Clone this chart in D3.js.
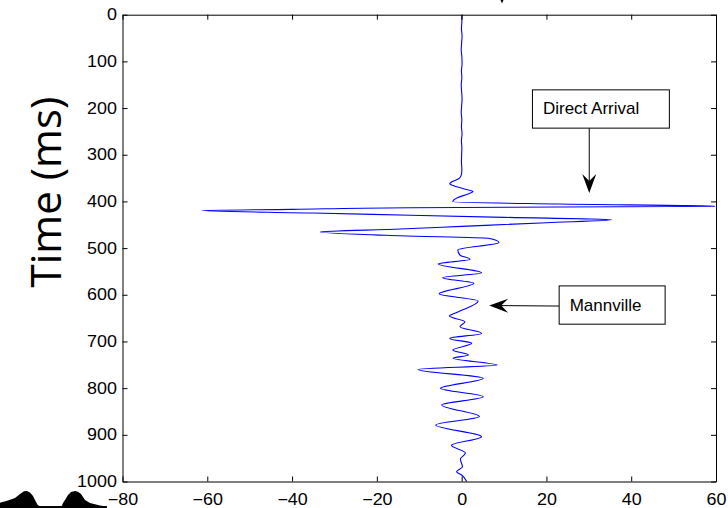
<!DOCTYPE html>
<html>
<head>
<meta charset="utf-8">
<script src="https://cdn.jsdelivr.net/npm/d3@7"></script>
<style>
  html, body { margin: 0; padding: 0; background: #fff; }
  svg { display: block; }
</style>
</head>
<body>
<svg id="chart" width="728" height="508"></svg>
<script>
// Vertical seismic trace: two-way time (ms) against amplitude
const timeMs = [
  0, 15, 30, 45, 60, 75, 90, 105, 120, 135, 150, 165, 180, 195, 210, 225, 240, 255, 270, 285,
  300, 315, 330, 340, 350, 358, 362, 366, 373, 379, 384, 392, 400.6,
  405.6, 410.5, 412, 413.5, 417, 419.5, 424.9, 429.6, 434.1, 439.3,
  445.6, 453.5, 459.2, 465.3, 473.5, 479, 488,
  504, 515, 524, 534, 553, 563.5, 575.5, 598, 613.5, 638, 645.6, 658, 668.5, 682.7,
  693.4, 704, 718.5, 729, 736, 750.6, 760, 779, 800.5, 818.5, 836, 861, 879, 904,
  922.5, 939, 952, 968.5, 979, 986, 1000
];
const amplitude = [
  0, 0.05, -0.05, 0.1, 0, -0.1, 0.05, 0.1, -0.05, 0.05, -0.1, 0, 0.1, 0, -0.1, 0.05, -0.05, 0.1, -0.05, 0.05,
  0, -0.05, 0.05, 0, -0.5, -2.3, -2.8, -2.0, 0.5, 2.7, 1.5, -1.0, -2.1,
  23, 59.7, 23, -12, -40, -61.3, -35, -12, 10, 35.4,
  20, 0, -14.5, -33.3, -14.5, 6.3, 8.8,
  -0.9, -0.4, 2.0, -5.5, 4.7, -4.5, 2.9, -5.3, 3.9, -1.2, -2.9, 0.8, -0.4, 4.7,
  -2.8, 2.4, -2.1, 1.6, -2.0, 8.4, -10.3, 5.1, -5.0, 5.1, -4.7, 4.2, -6.1, 4.7,
  -2.4, 0.9, -0.3, 0.2, -1.2, 0, 1.2
];

const xTicks = [-80, -60, -40, -20, 0, 20, 40, 60];
const yTicks = [0, 100, 200, 300, 400, 500, 600, 700, 800, 900, 1000];

// Callout labels, anchored in data units
const calloutText = ["Direct Arrival", "Mannville"];
const calloutBox = [            // [x0, x1, t0, t1]
  [16.7, 49.0, 161, 243],
  [23.0, 48.0, 581, 663]
];
const calloutTip = [            // [x, t] where the arrow points
  [30.1, 382],
  [6.5, 623]
];

const plot = { left: 122.5, right: 716, top: 14.7, bottom: 481.5 };

const svg = d3.select("#chart");

const x = d3.scaleLinear().domain([-80, 60]).range([plot.left, plot.right]);
const y = d3.scaleLinear().domain([0, 1000]).range([plot.top, plot.bottom]);

const FONT = "'Liberation Sans', Arial, Helvetica, sans-serif";
const TICK_SX = 1.12;

// Trace
const trace = timeMs.map((t, i) => ({ t, v: amplitude[i] }));
svg.append("path")
  .datum(trace)
  .attr("fill", "none")
  .attr("stroke", "#0000ff")
  .attr("stroke-width", 1.1)
  .attr("stroke-linejoin", "round")
  .attr("d", d3.line().x(d => x(d.v)).y(d => y(d.t)).curve(d3.curveMonotoneY));

// Axes (box with inward ticks on all sides)
function styleAxis(g) {
  g.select(".domain").attr("stroke", "#000").attr("stroke-width", 1);
  g.selectAll(".tick line").attr("stroke", "#000").attr("stroke-width", 1);
  g.selectAll("text").attr("fill", "#000");
}

svg.append("g")
  .attr("transform", `translate(0,${plot.bottom})`)
  .call(d3.axisBottom(x).tickValues(xTicks).tickSizeInner(-5).tickSizeOuter(0).tickPadding(12).tickFormat(d3.format("d")))
  .call(styleAxis)
  .call(g => g.selectAll("text")
    .attr("font-family", FONT).attr("font-size", 16)
    .attr("transform", `scale(${TICK_SX},1)`));

svg.append("g")
  .attr("transform", `translate(${plot.left},0)`)
  .call(d3.axisLeft(y).tickValues(yTicks).tickSizeInner(-5).tickSizeOuter(0).tickPadding(5).tickFormat(d3.format("d")))
  .call(styleAxis)
  .call(g => g.selectAll("text")
    .attr("font-family", FONT).attr("font-size", 16)
    .attr("transform", `scale(${TICK_SX},1)`));

svg.append("g")
  .attr("transform", `translate(0,${plot.top})`)
  .call(d3.axisTop(x).tickValues(xTicks).tickSizeInner(-5).tickSizeOuter(0).tickFormat(""))
  .call(styleAxis);

svg.append("g")
  .attr("transform", `translate(${plot.right},0)`)
  .call(d3.axisRight(y).tickValues(yTicks).tickSizeInner(-5).tickSizeOuter(0).tickFormat(""))
  .call(styleAxis);

// Y axis title
svg.append("text")
  .attr("transform", `translate(61,192) rotate(-90)`)
  .attr("text-anchor", "middle")
  .attr("font-family", "'Open Sans', sans-serif")
  .attr("font-size", 42)
  .attr("fill", "#000")
  .text("Time (ms)");

// Arrow with swept-back head
function arrow(x1, y1, x2, y2, len = 19, half = 7, notch = 12) {
  const dx = x2 - x1, dy = y2 - y1, L = Math.hypot(dx, dy);
  const ux = dx / L, uy = dy / L, nx = -uy, ny = ux;
  svg.append("line")
    .attr("x1", x1).attr("y1", y1)
    .attr("x2", x2 - ux * (notch - 1)).attr("y2", y2 - uy * (notch - 1))
    .attr("stroke", "#000").attr("stroke-width", 1);
  const bx = x2 - ux * len, by = y2 - uy * len;
  const pts = [
    [x2, y2],
    [bx + nx * half, by + ny * half],
    [x2 - ux * notch, y2 - uy * notch],
    [bx - nx * half, by - ny * half]
  ];
  svg.append("path")
    .attr("d", "M" + pts.map(p => p.join(",")).join("L") + "Z")
    .attr("fill", "#000");
}

// Callouts
calloutText.forEach((label, i) => {
  const [bx0, bx1, bt0, bt1] = calloutBox[i];
  const [tx, tt] = calloutTip[i];
  const X0 = x(bx0), X1 = x(bx1), Y0 = y(bt0), Y1 = y(bt1);
  if (i === 0) {
    arrow(x(tx), Y1, x(tx), y(tt));            // straight down from the box
  } else {
    arrow(X0, (Y0 + Y1) / 2 + 1, x(tx), y(tt)); // left from the box
  }
  svg.append("rect")
    .attr("x", X0).attr("y", Y0)
    .attr("width", X1 - X0).attr("height", Y1 - Y0)
    .attr("fill", "#fff").attr("stroke", "#000").attr("stroke-width", 1);
  svg.append("text")
    .attr("x", X0 + 10.5).attr("y", (Y0 + Y1) / 2 + 5.5)
    .attr("font-family", FONT).attr("font-size", 17)
    .attr("fill", "#000")
    .text(label);
});

// Edge fragments of neighbouring artwork
svg.append("path")
  .attr("d", "M500.5,0L503.5,0L502,3.5Z")
  .attr("fill", "#000");

const blobPts = [
  [0, 508], [0, 502.7], [8, 500.5], [15, 498], [20, 494], [24, 491.2], [27, 491], [30, 492.5],
  [33, 496], [35.5, 501], [37.7, 505], [40, 506.3], [61.7, 506.3], [63, 503], [65, 500], [68, 495],
  [71, 492], [75, 491], [78, 491.8], [81, 494], [85, 500], [90, 503], [100, 505.5], [106.7, 506.5], [107, 508]
];
svg.append("path")
  .attr("d", d3.line().curve(d3.curveLinear)(blobPts) + "Z")
  .attr("fill", "#000");
svg.append("line")
  .attr("x1", 0).attr("x2", 107).attr("y1", 506.7).attr("y2", 506.7)
  .attr("stroke", "#000").attr("stroke-width", 1);
</script>
</body>
</html>
